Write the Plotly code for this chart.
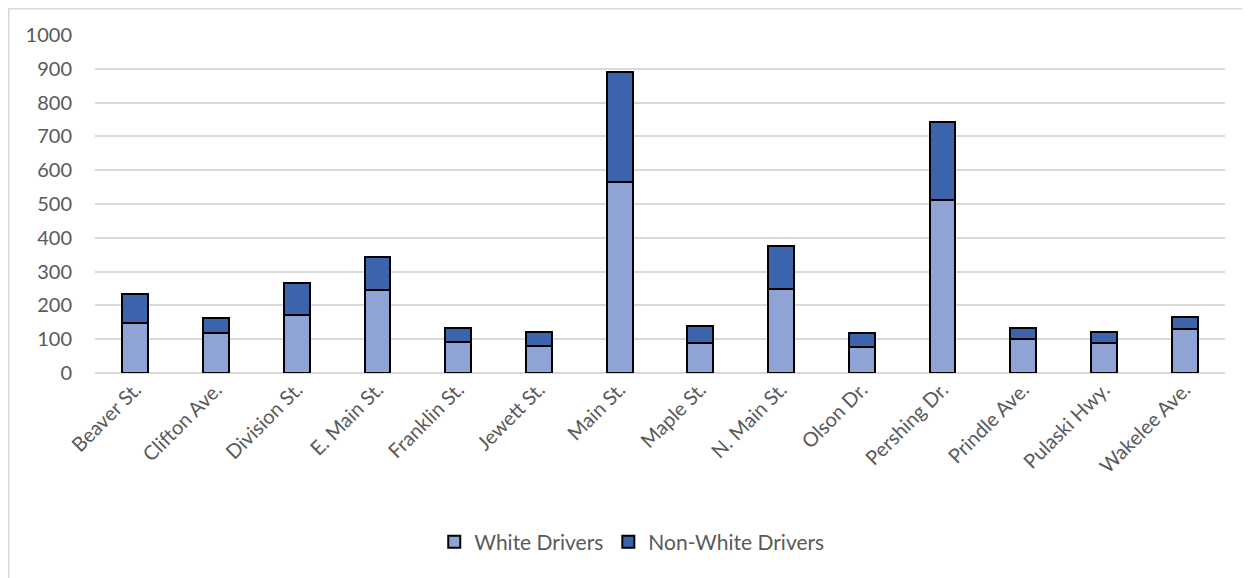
import plotly.graph_objects as go

streets = ["Beaver St.", "Clifton Ave.", "Division St.", "E. Main St.", "Franklin St.",
           "Jewett St.", "Main St.", "Maple St.", "N. Main St.", "Olson Dr.",
           "Pershing Dr.", "Prindle Ave.", "Pulaski Hwy.", "Wakelee Ave."]
white_drivers = [148, 119, 173, 246, 91, 81, 566, 90, 250, 77, 511, 102, 90, 129]
nonwhite_drivers = [87, 43, 94, 96, 43, 40, 324, 48, 127, 40, 231, 31, 31, 36]
y_ticks = [0, 100, 200, 300, 400, 500, 600, 700, 800, 900, 1000]

FONT = "Lato, Calibri, Carlito, sans-serif"

fig = go.Figure()
fig.add_trace(go.Bar(x=streets, y=white_drivers, name="White Drivers",
                     marker=dict(color="#8FA3D4", line=dict(color="#000000", width=2))))
fig.add_trace(go.Bar(x=streets, y=nonwhite_drivers, name="Non-White Drivers",
                     marker=dict(color="#3C64AD", line=dict(color="#000000", width=2))))

fig.update_layout(
    barmode="stack",
    bargap=0.68,
    width=1250, height=578,
    margin=dict(l=87, r=33, t=27, b=213),
    plot_bgcolor="white", paper_bgcolor="white",
    font=dict(family=FONT, size=20, color="#595959"),
    legend=dict(orientation="h", x=0.475, xanchor="center", y=-0.50, yanchor="middle",
                font=dict(size=21, color="#595959"), traceorder="normal",
                itemwidth=30),
    xaxis=dict(tickangle=-45, showgrid=False, showline=False, ticks="",
               tickfont=dict(size=20, color="#595959")),
    yaxis=dict(range=[0, 1000], tickvals=y_ticks, showgrid=True, gridcolor="#D9D9D9",
               gridwidth=1.5, zeroline=True, zerolinecolor="#D9D9D9", zerolinewidth=1.5,
               ticks="", tickfont=dict(size=20, color="#595959"), ticklabelstandoff=22),
    shapes=[dict(type="rect", xref="paper", yref="paper",
                 x0=-0.0763, x1=1.06, y0=-0.75, y1=1.0777,
                 line=dict(color="#D9D9D9", width=1.5), layer="below")],
)

fig.write_html("out.html")
